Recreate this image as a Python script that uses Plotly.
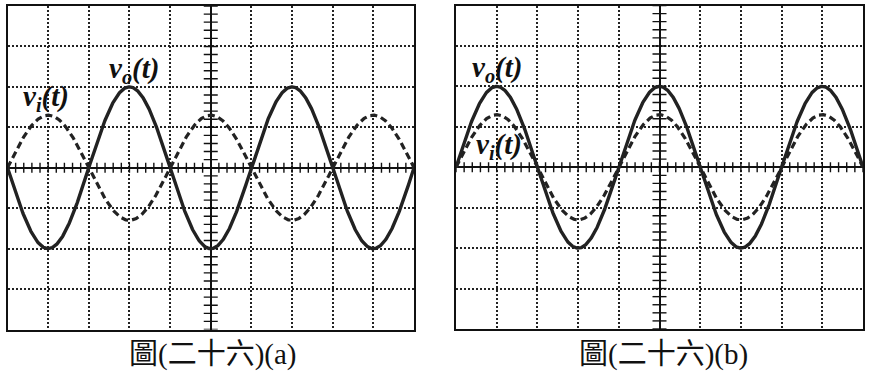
import numpy as np
import plotly.graph_objects as go

# ---- data (in screen divisions) ----
panels = ["a", "b"]
captions = ["圖(二十六)(a)", "圖(二十六)(b)"]
vo_amp = [-2.0, 2.0]      # divisions (negative = inverted)
vi_amp = [1.3, 1.3]
vi_sign = [1.0, 1.0]
period_div = [4.0, 4.0]
x_range = [-5, 5]
y_range = [-4, 4]
label_vo_pos = [(-1.9, 2.42), (-4.0, 2.42)]
label_vi_pos = [(-4.05, 1.72), (-3.95, 0.52)]

W, H = 870, 374
panel_px = [(7.5, 414.0, 6.0, 329.5), (456.0, 863.0, 5.5, 329.0)]
caption_px = [(213, 354), (663, 354)]

fig = go.Figure()
t = np.linspace(x_range[0], x_range[1], 801)
minor_x = np.arange(-5, 5.001, 0.2)
minor_y = np.arange(-4, 4.001, 0.2)

for i, p in enumerate(panels):
    xa = "x" if i == 0 else "x2"
    ya = "y" if i == 0 else "y2"
    ph = 2 * np.pi * (t - x_range[0]) / period_div[i]
    vo = vo_amp[i] * np.sin(ph)
    vi = (vi_amp[i] if i == 1 else -np.sign(vo_amp[i]) * vi_amp[i]) * vi_sign[i] * np.sin(ph)
    fig.add_trace(go.Scatter(x=minor_x, y=np.zeros_like(minor_x), mode="markers",
                             marker=dict(symbol="line-ns", size=7, line=dict(width=1.4, color="#111")),
                             xaxis=xa, yaxis=ya, hoverinfo="skip", showlegend=False))
    fig.add_trace(go.Scatter(x=np.zeros_like(minor_y), y=minor_y, mode="markers",
                             marker=dict(symbol="line-ew", size=10, line=dict(width=1.4, color="#111")),
                             xaxis=xa, yaxis=ya, hoverinfo="skip", showlegend=False))
    fig.add_trace(go.Scatter(x=t, y=vi, mode="lines",
                             line=dict(color="#222", width=3.2, dash="7px,4px"),
                             xaxis=xa, yaxis=ya, showlegend=False))
    fig.add_trace(go.Scatter(x=t, y=vo, mode="lines",
                             line=dict(color="#222", width=3.4),
                             xaxis=xa, yaxis=ya, showlegend=False))
    lf = dict(family="Liberation Serif", size=29, color="#111")
    fig.add_annotation(x=label_vo_pos[i][0], y=label_vo_pos[i][1], xref=xa, yref=ya,
                       text="<b><i>v<sub>o</sub>(t)</i></b>", showarrow=False, font=lf,
                       xanchor="center", yanchor="middle")
    fig.add_annotation(x=label_vi_pos[i][0], y=label_vi_pos[i][1], xref=xa, yref=ya,
                       text="<b><i>v<sub>i</sub>(t)</i></b>", showarrow=False, font=lf,
                       xanchor="center", yanchor="middle")
    cx, cy = caption_px[i]
    fig.add_annotation(x=cx / W, y=1 - cy / H, xref="paper", yref="paper",
                       text=captions[i], showarrow=False, xanchor="center", yanchor="middle",
                       font=dict(family="Liberation Serif, Noto Sans CJK TC", size=29, color="#111"))

def ax(domain, rng, dt):
    return dict(domain=domain, range=rng, dtick=dt, tick0=0, showgrid=True,
                gridcolor="#222", gridwidth=1.6, griddash="2px,2px",
                zeroline=True, zerolinecolor="#111", zerolinewidth=2,
                showline=True, linecolor="#111", linewidth=2.2, mirror=True,
                showticklabels=False, ticks="", fixedrange=True)

layout = dict(width=W, height=H, margin=dict(l=0, r=0, t=0, b=0),
              paper_bgcolor="white", plot_bgcolor="white")
for i in range(2):
    x0, x1, y0, y1 = panel_px[i]
    sfx = "" if i == 0 else "2"
    xd = ax([x0 / W, x1 / W], x_range, 1)
    yd = ax([1 - y1 / H, 1 - y0 / H], y_range, 1)
    xd["anchor"] = "y" + sfx
    yd["anchor"] = "x" + sfx
    layout["xaxis" + sfx] = xd
    layout["yaxis" + sfx] = yd
fig.update_layout(**layout)
fig.write_html("out.html")
